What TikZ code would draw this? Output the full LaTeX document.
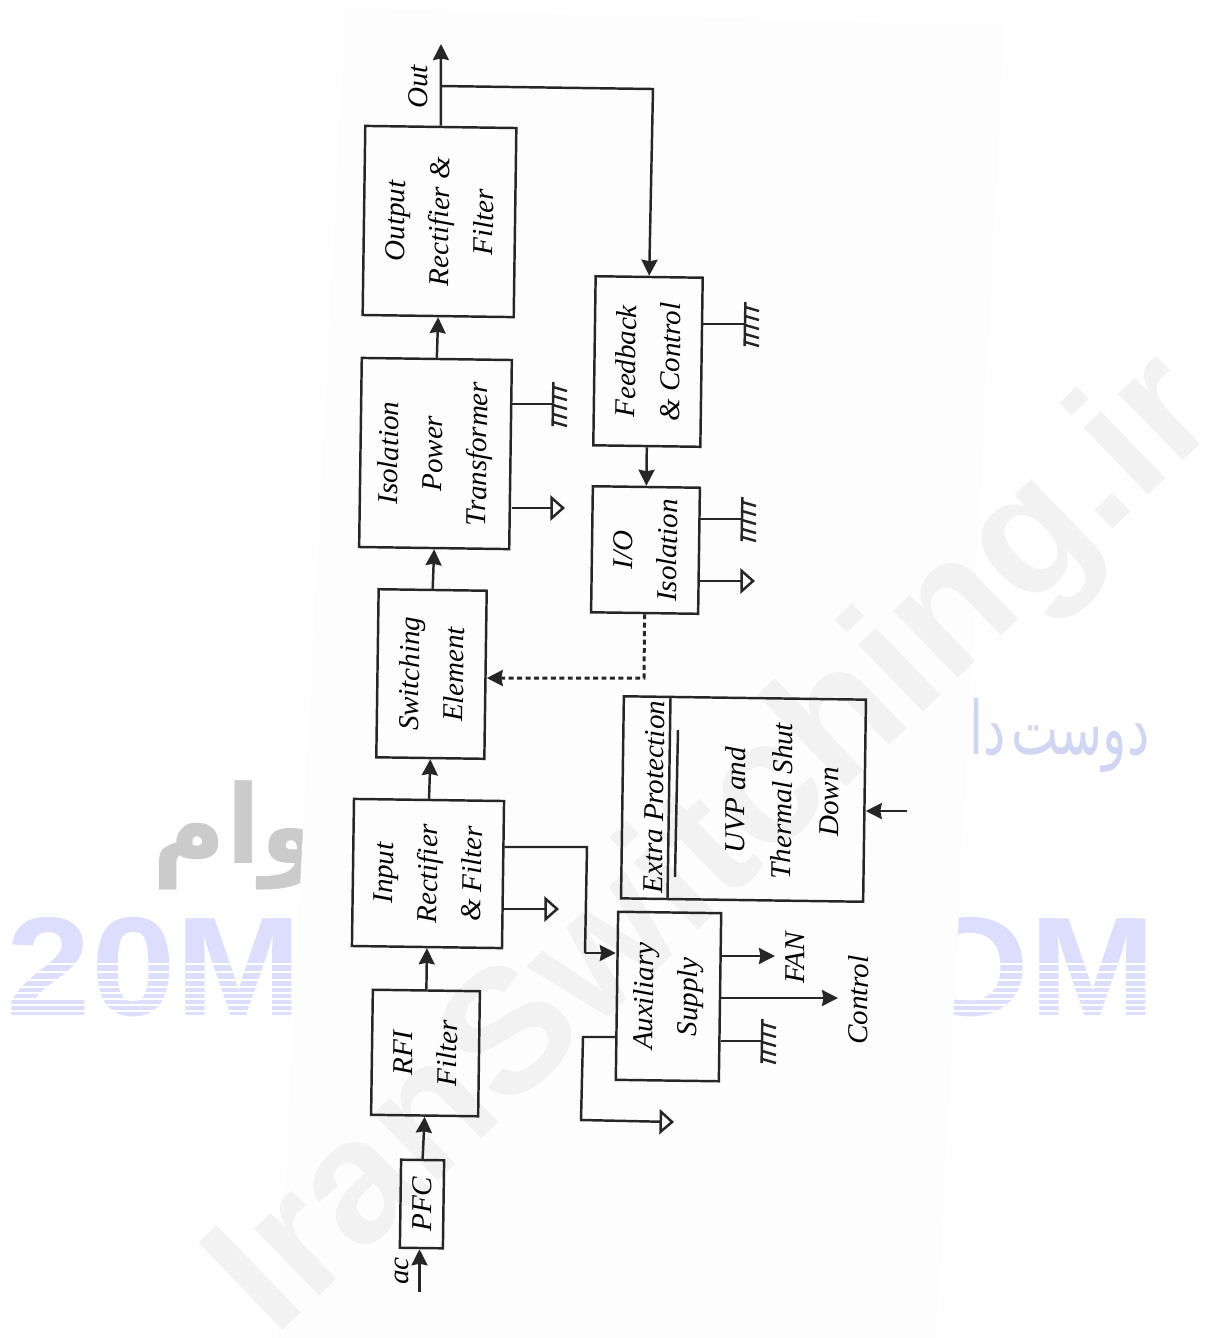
\documentclass[tikz,border=0pt]{standalone}
\usepackage{fontspec}
\setmainfont{Liberation Serif}
\newfontfamily\wmfont{Liberation Sans}
\newfontfamily\arabicfont[Script=Arabic]{DejaVu Sans}
\TeXXeTstate=1
\usetikzlibrary{arrows.meta,calc}
\definecolor{wmgray}{HTML}{F2F2F2}
\definecolor{wmblue}{HTML}{DDDDFD}
\definecolor{wmblue2}{HTML}{CFD6F3}
\definecolor{wmdark}{HTML}{CBCBCB}
\definecolor{paper}{HTML}{FDFDFD}
\tikzset{
  >={Stealth[length=1.6mm,width=1.6mm,inset=0.15mm]},
  blk/.style={draw=black!85,line width=0.7pt,inner sep=0pt,align=center,rotate=89.2,
    font=\fontsize{8.2}{12.6}\selectfont\itshape},
  lbl/.style={inner sep=0pt,rotate=89.2,font=\fontsize{8.2}{12.6}\selectfont\itshape},
  wire/.style={line width=0.7pt,black!85},
  flow/.style={wire,->},
  dotflow/.style={wire,->,line width=0.85pt,dash pattern=on 1.4pt off 1pt},
  rtn/.style={wire,-{Triangle[open,length=1.45mm,width=2.5mm]}},
  gndsym/.pic={
    \draw[wire] (0.4,-22)--(-0.4,22);
    \foreach \t in {-17,-8,1,10,18} \draw[wire] (0,\t)--(14,\t+4);
  },
}
\begin{document}
\begin{tikzpicture}[x=0.01cm,y=-0.01cm]
  \useasboundingbox (0,0) rectangle (1213,1338);
  % marks of the scan
  \node[anchor=west,inner sep=0pt,xscale=1.08,text=wmblue,font=\wmfont\bfseries\fontsize{40}{40}\selectfont] (wmleft) at (6,967) {20M};
  \node[anchor=east,inner sep=0pt,xscale=1.08,text=wmblue,font=\wmfont\bfseries\fontsize{40}{40}\selectfont] (wmright) at (1157,967) {OM};
  \foreach \y in {964,972,980,987,993,999,1005,1011} \draw[white,line width=0.5pt] (0,\y)--(1213,\y);
  \node[inner sep=0pt,xscale=0.92,text=wmdark,font=\arabicfont\bfseries\fontsize{31}{31}\selectfont] (wmfa) at (238,835) {\beginR وام\endR};
  \node[anchor=east,inner sep=0pt,xscale=0.68,text=wmblue2,font=\arabicfont\fontsize{21}{21}\selectfont] (wmfb) at (1150,735) {\beginR دوست\kern-0.2em{} دار\endR};
  \fill[paper] (345,8)--(1005,25)--(937,1338)--(277,1338)--cycle;
  \node[rotate=44,inner sep=0pt,text=wmgray,font=\wmfont\bfseries\fontsize{50}{50}\selectfont] (wmsite) at (718,848) {IranSwitching.ir};

  % upper row
  \node[blk,minimum width=1.25cm,minimum height=1.07cm] (rfi) at (425.5,1053) {RFI\\Filter};
  \node[blk,minimum width=0.88cm,minimum height=0.43cm] (pfc) at (422,1204) {PFC};
  \node[blk,minimum width=1.47cm,minimum height=1.50cm] (inp) at (428,873.5) {Input\\Rectifier\\\& Filter};
  \node[blk,minimum width=1.68cm,minimum height=1.08cm] (sw) at (431.5,674) {Switching\\Element};
  \node[blk,minimum width=1.89cm,minimum height=1.50cm] (iso) at (435.5,453.5) {Isolation\\Power\\Transformer};
  \node[blk,minimum width=1.89cm,minimum height=1.51cm] (outp) at (439.5,221.5) {Output\\Rectifier \&\\Filter};

  % lower row
  \node[blk,minimum width=1.69cm,minimum height=1.07cm] (fb) at (648,361.5) {Feedback\\\& Control};
  \node[blk,minimum width=1.26cm,minimum height=1.07cm] (io) at (645.5,550) {I/O\\Isolation};
  \node[blk,minimum width=2.02cm,minimum height=2.42cm] (prot) at (743.5,799) {};
  \node[lbl] (prottitle) at (654,797) {Extra Protection};
  \node[lbl,align=center,font=\fontsize{8.2}{13.3}\selectfont\itshape] (prottext) at (782,801) {UVP and\\Thermal Shut\\Down};
  \node[blk,minimum width=1.68cm,minimum height=1.03cm] (aux) at (668.5,996.5) {Auxiliary\\Supply};

  \node[lbl] (aclbl) at (402,1271) {ac};
  \node[lbl] (outlbl) at (418,87) {Out};
  \node[lbl] (fanlbl) at (795,958) {FAN};
  \node[lbl] (ctrllbl) at (858,1000) {Control};

  \coordinate (acin) at (419.5,1292);
  \coordinate (outend) at (441,44);
  \coordinate (outtap) at (440.3,86);
  \coordinate (fbcorner) at (653,89);
  \coordinate (swin) at (644,678);
  \coordinate (inpcorner) at (587,847);
  \coordinate (auxin) at (585,953);
  \coordinate (auxcorner) at (583,1037);
  \coordinate (auxdown) at (581,1120);
  \coordinate (auxret) at (674,1122);
  \coordinate (fanend) at (775,956);
  \coordinate (ctrlend) at (838,998);
  \coordinate (prin) at (907,811);
  \coordinate (rline1) at (670.5,698);
  \coordinate (rline2) at (667.5,898);
  \coordinate (rline3) at (678,730);
  \coordinate (rline4) at (675,877);
  \coordinate (giso) at (553,404);
  \coordinate (gfb) at (745,324);
  \coordinate (gio) at (742,519);
  \coordinate (gaux) at (762,1041);
  \coordinate (riso) at (565,508);
  \coordinate (rinp) at (559,909);
  \coordinate (rio) at (755,581);

  \draw[flow] (acin)--(acin |- pfc.west);
  \draw[flow] (pfc.east)--(rfi.west);
  \draw[flow] (rfi.east)--(inp.west);
  \draw[flow] (inp.east)--(sw.west);
  \draw[flow] (sw.east)--(iso.west);
  \draw[flow] (iso.east)--(outp.west);
  \draw[flow] (outp.east)--(outend);
  \draw[flow] (outtap)--(fbcorner)--(fb.east);
  \draw[flow] (fb.west)--(io.east);
  \draw[dotflow] (io.west)--(swin)--(swin -| sw.south);
  \draw[wire] (inpcorner -| inp.south)--(inpcorner)--(auxin);
  \draw[flow] (auxin)--(auxin -| aux.north);
  \draw[rtn] (auxcorner -| aux.north)--(auxcorner)--(auxdown)--(auxret);
  \draw[flow] (fanend -| aux.south)--(fanend);
  \draw[flow] (ctrlend -| aux.south)--(ctrlend);
  \draw[flow] (prin)--(prin -| prot.south);
  \draw[wire] (rline1)--(rline2);
  \draw[wire] (rline3)--(rline4);

  % grounds and returns
  \draw[wire] (giso -| iso.south)--(giso);
  \draw[wire] (gfb -| fb.south)--(gfb);
  \draw[wire] (gio -| io.south)--(gio);
  \draw[wire] (gaux -| aux.south)--(gaux);
  \pic at (giso) {gndsym};
  \pic at (gfb) {gndsym};
  \pic at (gio) {gndsym};
  \pic at (gaux) {gndsym};
  \draw[rtn] (riso -| iso.south)--(riso);
  \draw[rtn] (rinp -| inp.south)--(rinp);
  \draw[rtn] (rio -| io.south)--(rio);
\end{tikzpicture}
\end{document}
